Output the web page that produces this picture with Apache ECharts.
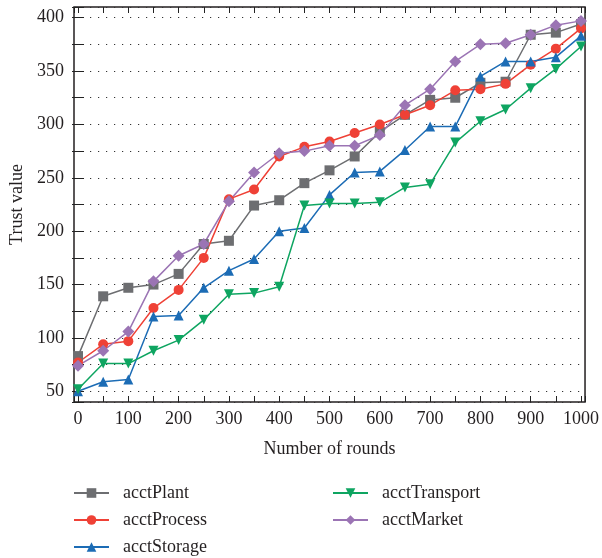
<!DOCTYPE html>
<html>
<head>
<meta charset="utf-8">
<script src="https://cdn.jsdelivr.net/npm/echarts@6/dist/echarts.min.js"></script>
<style>
  html, body { margin: 0; padding: 0; background: #fff; }
  #chart { width: 602px; height: 558px; }
</style>
</head>
<body>
<div id="chart"></div>
<script>
// rounds on the x axis
const rounds = [0, 50, 100, 150, 200, 250, 300, 350, 400, 450, 500, 550, 600, 650, 700, 750, 800, 850, 900, 950, 1000];

// trust value per account
const acctPlant = [83, 139, 147, 150, 160, 188, 191, 224, 229, 245, 257, 270, 293, 309, 323, 325, 339, 340, 384, 386, 394];
const acctProcess = [77, 94, 97, 128, 145, 175, 230, 239, 270, 279, 284, 292, 300, 309, 318, 332, 333, 338, 356, 371, 390];
const acctStorage = [50, 59, 61, 120, 121, 147, 163, 174, 200, 203, 234, 255, 256, 276, 298, 298, 345, 359, 359, 363, 383];
const acctTransport = [52, 76, 76, 88, 98, 117, 141, 142, 148, 224, 226, 226, 227, 241, 244, 283, 303, 314, 334, 352, 373];
const acctMarket = [74, 88, 106, 153, 177, 188, 228, 255, 273, 275, 280, 280, 290, 318, 333, 359, 375, 376, 384, 393, 397];

const font = 'Liberation Serif';
const pair = arr => rounds.map((r, i) => [r, arr[i]]);

function makeSeries(name, data, color, symbol, rotate) {
  return {
    name: name,
    type: 'line',
    data: pair(data),
    symbol: symbol,
    symbolSize: symbol === 'diamond' ? 12 : 10,
    symbolRotate: rotate || 0,
    lineStyle: { color: color, width: 1.5 },
    itemStyle: { color: color },
    z: 3
  };
}

const xBase = {
  type: 'value',
  min: -8,
  max: 1008,
  minInterval: 50,
  maxInterval: 50,
  axisLine: { show: false },
  axisTick: { show: true, inside: true, length: 6, lineStyle: { color: '#222' } },
  splitLine: { show: false }
};
const yBase = {
  type: 'value',
  min: 40,
  max: 410,
  minInterval: 25,
  maxInterval: 25,
  axisLine: { show: false },
  axisTick: { show: true, inside: true, length: 6, lineStyle: { color: '#222' } }
};

const chart = echarts.init(document.getElementById('chart'));
chart.setOption({
  animation: false,
  backgroundColor: '#fff',
  textStyle: { fontFamily: font },
  grid: {
    left: 74, top: 7, right: 12, bottom: 156,
    show: true, borderColor: '#231f20', borderWidth: 1.5
  },
  xAxis: [
    Object.assign({}, xBase, {
      position: 'bottom',
      name: 'Number of rounds',
      nameLocation: 'middle',
      nameGap: 38,
      nameTextStyle: { fontFamily: font, fontSize: 18, color: '#231f20' },
      axisLabel: {
        fontFamily: font, fontSize: 18, color: '#231f20', margin: 8,
        formatter: v => (v % 100 === 0 ? String(v) : '')
      }
    }),
    Object.assign({}, xBase, { position: 'top', axisLabel: { show: false } })
  ],
  yAxis: [
    Object.assign({}, yBase, {
      position: 'left',
      name: 'Trust value',
      nameLocation: 'middle',
      nameGap: 46,
      nameTextStyle: { fontFamily: font, fontSize: 18, color: '#231f20' },
      axisLabel: {
        fontFamily: font, fontSize: 18, color: '#231f20', margin: 10,
        formatter: v => (v % 50 === 0 ? String(v) : '')
      },
      splitLine: { show: true, lineStyle: { color: '#333', width: 1.2, type: [1.2, 6.8] } }
    }),
    Object.assign({}, yBase, { position: 'right', axisLabel: { show: false }, splitLine: { show: false } })
  ],
  legend: [
    {
      data: ['acctPlant', 'acctProcess', 'acctStorage'],
      orient: 'vertical', left: 73, top: 484, padding: 0,
      itemWidth: 35, itemHeight: 12, itemGap: 9,
      textStyle: { fontFamily: font, fontSize: 18, color: '#231f20', lineHeight: 18, padding: [0, 0, 0, 9] }
    },
    {
      data: ['acctTransport', 'acctMarket'],
      orient: 'vertical', left: 332, top: 484, padding: 0,
      itemWidth: 35, itemHeight: 12, itemGap: 9,
      textStyle: { fontFamily: font, fontSize: 18, color: '#231f20', lineHeight: 18, padding: [0, 0, 0, 9] }
    }
  ],
  series: [
    makeSeries('acctPlant', acctPlant, '#6d6e71', 'rect'),
    makeSeries('acctProcess', acctProcess, '#ef4136', 'circle'),
    makeSeries('acctStorage', acctStorage, '#1c6cb5', 'triangle'),
    makeSeries('acctTransport', acctTransport, '#0ea561', 'triangle', 180),
    makeSeries('acctMarket', acctMarket, '#9b74b4', 'diamond')
  ]
});
</script>
</body>
</html>
